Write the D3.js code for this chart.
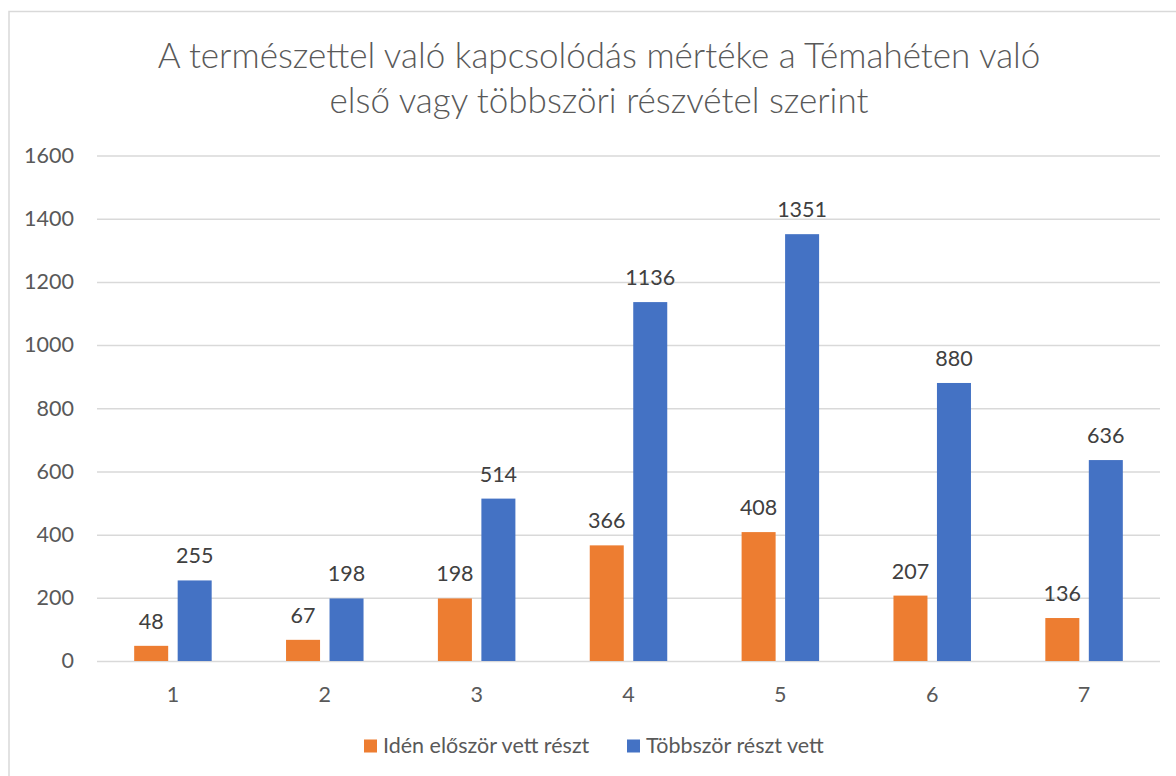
<!DOCTYPE html>
<html><head><meta charset="utf-8">
<script src="https://cdn.jsdelivr.net/npm/d3@7"></script>
<style>html,body{margin:0;padding:0;background:#fff;}svg{display:block;font-family:Lato,"Open Sans",sans-serif;}</style>
</head><body>
<svg id="chart" width="1176" height="776"></svg>
<script>
const categories = ["1","2","3","4","5","6","7"];
const seriesNames = ["Idén először vett részt","Többször részt vett"];
const firstTime = [48,67,198,366,408,207,136];
const multiple = [255,198,514,1136,1351,880,636];
const yTicks = [0,200,400,600,800,1000,1200,1400,1600];
const titleLines = ["A természettel való kapcsolódás mértéke a Témahéten való","első vagy többszöri részvétel szerint"];
const colors = ["#ED7D31","#4472C4"];

const svg = d3.select("#chart");
svg.append("rect").attr("x",0).attr("y",0).attr("width",1176).attr("height",776).attr("fill","#fff");
svg.append("rect").attr("x",9).attr("y",11.5).attr("width",1300).attr("height",1000)
  .attr("fill","none").attr("stroke","#d9d9d9").attr("stroke-width",1.5);

const x0 = d3.scaleBand().domain(categories).range([97,1160]).padding(0);
const bw = x0.bandwidth();
const groupW = 77.5;
const x1 = d3.scaleBand().domain(seriesNames).range([bw/2-groupW/2, bw/2+groupW/2]).paddingInner(0.218);
const y = d3.scaleLinear().domain([0,1600]).range([661,155.5]);

// gridlines
const yAxis = d3.axisLeft(y).tickValues(yTicks).tickSize(-(1160-97)).tickFormat(d=>d).tickPadding(23);
const gy = svg.append("g").attr("transform","translate(97,0)").call(yAxis);
gy.select(".domain").remove();
gy.selectAll(".tick line").attr("stroke","#d9d9d9").attr("stroke-width",1.5);
gy.selectAll(".tick text").attr("fill","#595959").style("font-size","21.5px").style("font-family","Lato");

// x axis labels
const xAxis = d3.axisBottom(x0).tickSize(0).tickPadding(26);
const gx = svg.append("g").attr("transform","translate(0,661)").call(xAxis);
gx.select(".domain").remove();
gx.selectAll(".tick text").attr("fill","#595959").style("font-size","21.5px").style("font-family","Lato");

const data = categories.map((c,i)=>({cat:c, vals:[{s:seriesNames[0],v:firstTime[i],k:0},{s:seriesNames[1],v:multiple[i],k:1}]}));
const groups = svg.append("g").selectAll("g").data(data).join("g")
  .attr("transform",d=>`translate(${x0(d.cat)},0)`);
groups.selectAll("rect").data(d=>d.vals).join("rect")
  .attr("x",d=>x1(d.s)).attr("width",x1.bandwidth())
  .attr("y",d=>y(d.v)).attr("height",d=>y(0)-y(d.v))
  .attr("fill",d=>colors[d.k]);
groups.selectAll("text").data(d=>d.vals).join("text")
  .attr("x",d=>x1(d.s)+x1.bandwidth()/2).attr("y",d=>y(d.v)-17)
  .attr("text-anchor","middle").attr("fill","#404040")
  .style("font-size","21.5px").text(d=>d.v);

// title
svg.append("g").selectAll("text").data(titleLines).join("text")
  .attr("x",599).attr("y",(d,i)=>68+i*45).attr("text-anchor","middle")
  .attr("fill","#595959").style("font-size","35px").style("font-weight","300").text(d=>d);

// legend
const legendItems = [{n:seriesNames[0],c:colors[0],x:364},{n:seriesNames[1],c:colors[1],x:627}];
const lg = svg.append("g").selectAll("g").data(legendItems).join("g").attr("transform",d=>`translate(${d.x},739.5)`);
lg.append("rect").attr("width",13).attr("height",13).attr("fill",d=>d.c);
lg.append("text").attr("x",19).attr("y",13.5).attr("fill","#595959").style("font-size","21.5px").text(d=>d.n);
</script>
</body></html>
